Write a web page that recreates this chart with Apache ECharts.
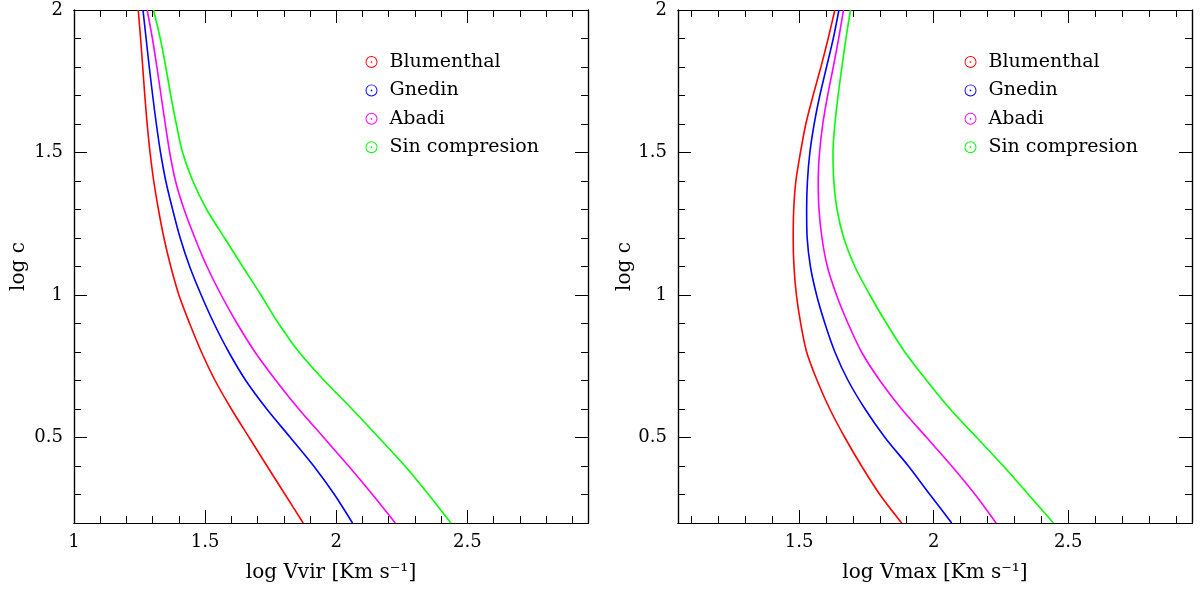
<!DOCTYPE html>
<html>
<head>
<meta charset="utf-8">
<script src="https://cdn.jsdelivr.net/npm/echarts@6/dist/echarts.min.js"></script>
<style>
html,body{margin:0;padding:0;background:#fff;}
#chart{width:1202px;height:590px;}
</style>
</head>
<body>
<div id="chart"></div>
<script>
// log c levels shared by all curves
const logC = [2.0,1.9,1.8,1.7,1.6,1.5,1.4,1.3,1.2,1.1,1.0,0.9,0.8,0.7,0.6,0.5,0.4,0.3,0.2];

// left panel: log Vvir
const vvirBlumenthal = [1.245,1.254,1.262,1.270,1.279,1.290,1.304,1.322,1.343,1.369,1.400,1.441,1.486,1.538,1.600,1.668,1.736,1.805,1.874];
const vvirGnedin     = [1.263,1.275,1.287,1.300,1.314,1.330,1.350,1.376,1.405,1.441,1.485,1.534,1.590,1.655,1.735,1.825,1.914,1.993,2.062];
const vvirAbadi      = [1.279,1.299,1.316,1.332,1.348,1.365,1.387,1.420,1.461,1.507,1.561,1.622,1.690,1.770,1.857,1.952,2.047,2.138,2.225];
const vvirSin        = [1.303,1.329,1.350,1.369,1.390,1.414,1.453,1.506,1.574,1.643,1.713,1.780,1.858,1.954,2.060,2.162,2.262,2.352,2.437];

// right panel: log Vmax
const vmaxBlumenthal = [1.633,1.608,1.581,1.552,1.525,1.505,1.488,1.480,1.478,1.481,1.490,1.506,1.528,1.567,1.614,1.670,1.732,1.800,1.881];
const vmaxGnedin     = [1.648,1.627,1.602,1.577,1.556,1.540,1.531,1.528,1.530,1.542,1.565,1.596,1.633,1.682,1.745,1.819,1.906,1.986,2.067];
const vmaxAbadi      = [1.665,1.647,1.627,1.606,1.588,1.576,1.571,1.574,1.585,1.605,1.639,1.682,1.732,1.800,1.881,1.974,2.067,2.154,2.232];
const vmaxSin        = [1.691,1.674,1.659,1.645,1.633,1.626,1.629,1.641,1.666,1.707,1.763,1.825,1.893,1.974,2.061,2.160,2.259,2.352,2.445];

const seriesNames = ['Blumenthal','Gnedin','Abadi','Sin compresion'];
const seriesColors = ['#ff0000','#0000ff','#ff00ff','#00ff00'];

const xMajorLeft = [1,1.5,2,2.5];
const xMajorRight = [1.5,2,2.5];
const xMinor = [1.1,1.2,1.3,1.4,1.6,1.7,1.8,1.9,2.1,2.2,2.3,2.4,2.6,2.7,2.8,2.9];
const yMajor = [0.5,1,1.5,2];
const yMinor = [0.3,0.4,0.6,0.7,0.8,0.9,1.1,1.2,1.3,1.4,1.6,1.7,1.8,1.9];

const xRanges = [[1,2.96],[1.05,2.96]];
const yRange = [0.2,2];
const xTitles = ['log Vvir [Km s\u207B\u00B9]','log Vmax [Km s\u207B\u00B9]'];

const FONT = 'DejaVu Serif';
const chart = echarts.init(document.getElementById('chart'));

const xAxes = [], yAxes = [];
const grids = [
  {left:74, top:10, width:514, height:513},
  {left:678, top:10, width:514, height:513}
];
const majorIdx = [];
for (let g = 0; g < 2; g++) {
  const xMaj = g === 0 ? xMajorLeft : xMajorRight;
  const base = {type:'value', gridIndex:g, min:xRanges[g][0], max:xRanges[g][1],
    splitLine:{show:false}, axisLine:{show:true, onZero:false, lineStyle:{color:'#000', width:1.2}}};
  const bi = xAxes.length;
  xAxes.push(Object.assign({}, base, {position:'bottom',
    name:xTitles[g], nameLocation:'middle', nameGap:40,
    nameTextStyle:{fontFamily:FONT, fontSize:20, color:'#000'},
    axisTick:{inside:true, length:13, customValues:xMaj, lineStyle:{color:'#000'}},
    axisLabel:{customValues:xMaj, fontFamily:FONT, fontSize:18, color:'#000', margin:10}}));
  xAxes.push(Object.assign({}, base, {position:'bottom',
    axisTick:{inside:true, length:7, customValues:xMinor, lineStyle:{color:'#000'}},
    axisLabel:{show:false}}));
  xAxes.push(Object.assign({}, base, {position:'top',
    axisTick:{inside:true, length:13, customValues:xMaj, lineStyle:{color:'#000'}},
    axisLabel:{show:false}}));
  xAxes.push(Object.assign({}, base, {position:'top',
    axisTick:{inside:true, length:7, customValues:xMinor, lineStyle:{color:'#000'}},
    axisLabel:{show:false}}));

  const ybase = {type:'value', gridIndex:g, min:yRange[0], max:yRange[1],
    splitLine:{show:false}, axisLine:{show:true, onZero:false, lineStyle:{color:'#000', width:1.2}}};
  const yi = yAxes.length;
  yAxes.push(Object.assign({}, ybase, {position:'left',
    name:'log c', nameLocation:'middle', nameGap: g === 0 ? 45 : 33, nameRotate:90,
    nameTextStyle:{fontFamily:FONT, fontSize:20, color:'#000'},
    axisTick:{inside:true, length:13, customValues:yMajor, lineStyle:{color:'#000'}},
    axisLabel:{customValues:yMajor, fontFamily:FONT, fontSize:18, color:'#000', margin:11}}));
  yAxes.push(Object.assign({}, ybase, {position:'left',
    axisTick:{inside:true, length:7, customValues:yMinor, lineStyle:{color:'#000'}},
    axisLabel:{show:false}}));
  yAxes.push(Object.assign({}, ybase, {position:'right',
    axisTick:{inside:true, length:13, customValues:yMajor, lineStyle:{color:'#000'}},
    axisLabel:{show:false}}));
  yAxes.push(Object.assign({}, ybase, {position:'right',
    axisTick:{inside:true, length:7, customValues:yMinor, lineStyle:{color:'#000'}},
    axisLabel:{show:false}}));
  majorIdx.push([bi, yi]);
}

const panelData = [
  [vvirBlumenthal, vvirGnedin, vvirAbadi, vvirSin],
  [vmaxBlumenthal, vmaxGnedin, vmaxAbadi, vmaxSin]
];
const series = [];
for (let g = 0; g < 2; g++) {
  panelData[g].forEach((xs, k) => {
    series.push({
      type:'line', name:seriesNames[k], xAxisIndex:majorIdx[g][0], yAxisIndex:majorIdx[g][1],
      data: xs.map((x, i) => [x, logC[i]]),
      showSymbol:false, symbol:'none', smooth:0.3, clip:true,
      color: seriesColors[k],
      lineStyle:{color:seriesColors[k], width:1.6},
      itemStyle:{color:seriesColors[k]},
      animation:false
    });
  });
}

const ringIcon = 'path://M2,12 A10,10 0 1,1 22,12 A10,10 0 1,1 2,12 Z M3.6,12 A8.4,8.4 0 1,0 20.4,12 A8.4,8.4 0 1,0 3.6,12 Z M10.6,12 A1.4,1.4 0 1,1 13.4,12 A1.4,1.4 0 1,1 10.6,12 Z';
const legendBase = {
  orient:'vertical', data:seriesNames, icon:ringIcon, itemWidth:26, itemHeight:12,
  itemGap:8.4, padding:0, symbolKeepAspect:true, selectedMode:false,
  textStyle:{fontFamily:FONT, fontSize:19, color:'#000', lineHeight:20}
};

chart.setOption({
  animation:false,
  backgroundColor:'#fff',
  grid: grids,
  xAxis: xAxes,
  yAxis: yAxes,
  legend: [
    Object.assign({}, legendBase, {left:365.5, top:52}),
    Object.assign({}, legendBase, {left:964.5, top:52})
  ],
  series: series
});
</script>
</body>
</html>
